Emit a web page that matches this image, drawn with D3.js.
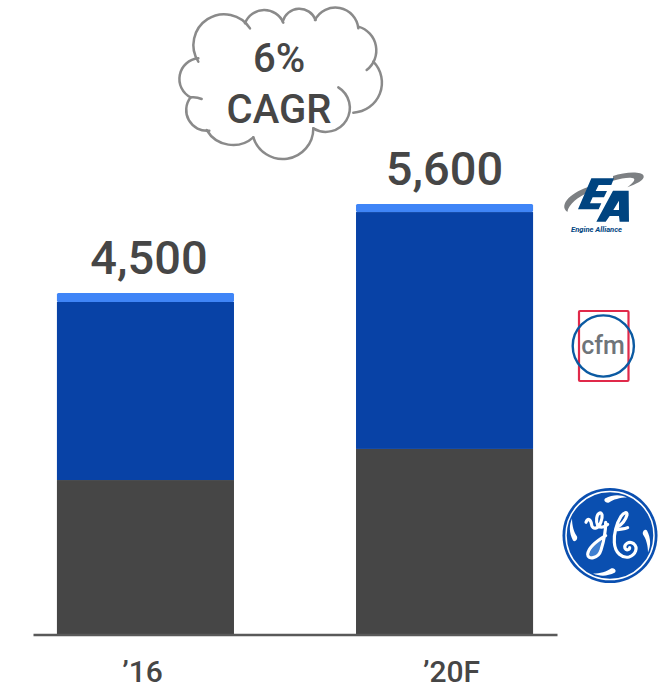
<!DOCTYPE html>
<html>
<head>
<meta charset="utf-8">
<style>
  html, body { margin: 0; padding: 0; background: #fff; }
  svg { display: block; }
  text { font-family: Roboto, sans-serif; }
</style>
<script src="https://d3js.org/d3.v7.min.js"></script>
</head>
<body>
<script>
const categories = ["\u201916", "\u201920F"];
const totalLabels = ["4,500", "5,600"];
const seriesNames = ["GE", "CFM", "Engine Alliance"];
const geValues = [2005, 2410];
const cfmValues = [2320, 3085];
const eaValues = [115, 105];
const cagrLines = ["6%", "CAGR"];

const w = 666, h = 689;
const dark = "#464646", mid = "#0842a6", light = "#3f85f7";

const svg = d3.select("body").append("svg").attr("width", w).attr("height", h);

const x = d3.scaleBand().domain(categories).range([33, 557])
  .paddingInner(0.408).paddingOuter(0.08);
const y = d3.scaleLinear().domain([0, 5600]).range([634, 204]);

const rows = categories.map((c, i) => ({ cat: c, GE: geValues[i], CFM: cfmValues[i], "Engine Alliance": eaValues[i] }));
const stack = d3.stack().keys(seriesNames)(rows);
const colors = d3.scaleOrdinal().domain(seriesNames).range([dark, mid, light]);

svg.selectAll("g.series").data(stack).enter().append("g")
  .attr("class", "series")
  .attr("fill", d => colors(d.key))
  .selectAll("rect").data(d => d).enter().append("rect")
  .attr("x", d => x(d.data.cat))
  .attr("width", x.bandwidth())
  .attr("y", d => y(d[1]))
  .attr("height", d => y(d[0]) - y(d[1]))
  .attr("rx", (d, i, n) => n[i].parentNode.__data__.key === "Engine Alliance" ? 1.5 : 0);

// axis, labels sit a bit off centre in the original
const axis = svg.append("g").attr("transform", "translate(0,634.5)")
  .call(d3.axisBottom(x).tickSize(0).tickPadding(26).tickSizeOuter(0));
axis.select(".domain").attr("stroke", "#595959").attr("stroke-width", 2.6);
axis.selectAll("text")
  .attr("fill", dark).attr("font-size", 30).attr("font-weight", 500)
  .attr("dx", (d, i) => i === 0 ? -3 : 7)
  .style("font-family", "Roboto, sans-serif");

// totals above the bars
svg.selectAll("text.total").data(categories).enter().append("text")
  .attr("class", "total")
  .attr("x", (d, i) => x(d) + x.bandwidth() / 2 + (i === 0 ? 3.5 : 0))
  .attr("y", (d, i) => y(geValues[i] + cfmValues[i] + eaValues[i]) - 19)
  .attr("text-anchor", "middle")
  .attr("fill", dark).attr("font-size", 47).attr("font-weight", 500)
  .text((d, i) => totalLabels[i]);

// cloud, drawn lobe by lobe in zoomed coords
const lobes = [
  [62, 292, 85, 175, 62, 0], [95, 297, 62, 292, 60, 1],
  [85, 185, 240, 85, 92, 0], [225, 70, 340, 68, 62, 0],
  [338, 65, 437, 60, 52, 0], [435, 60, 565, 85, 69, 0],
  [565, 80, 590, 210, 74, 0], [610, 185, 550, 338, 90, 0],
  [505, 262, 430, 385, 72, 0], [430, 385, 250, 412, 92, 0],
  [250, 412, 110, 390, 92, 0], [118, 392, 62, 292, 62, 0]
];
svg.append("g").attr("transform", "translate(170,0) scale(0.3333)")
  .selectAll("path").data(lobes).enter().append("path")
  .attr("d", d => `M${d[0]},${d[1]}A${d[4]},${d[4]} 0 0 ${d[5] ? 0 : 1} ${d[2]},${d[3]}`)
  .attr("fill", "none").attr("stroke", "#8a8a8a").attr("stroke-width", 7.5).attr("stroke-linecap", "round");

svg.selectAll("text.cagr").data(cagrLines).enter().append("text")
  .attr("class", "cagr")
  .attr("x", 279).attr("y", (d, i) => 72 + i * 51)
  .attr("text-anchor", "middle")
  .attr("fill", dark).attr("font-size", 40).attr("font-weight", 500)
  .text(d => d);

// Engine Alliance logo
const ea = svg.append("g").attr("transform", "translate(558,170) scale(0.3333)");
ea.append("path").attr("fill", "#7d8083")
  .attr("d", "M28,126C0,105 40,64 102,48L95,66C60,80 32,102 28,126Z");
ea.append("path").attr("fill", "#7d8083")
  .attr("d", "M165,18C200,6 252,3 257,18C260,30 235,42 208,52C228,36 236,26 222,24C208,22 190,26 165,32Z");
ea.append("path").attr("fill", "#004480")
  .attr("d", "M100,25L168,25L160,45L122,45L113,63L147,63L138,82L104,82L96,100L130,100L122,118L60,118Z");
ea.append("path").attr("fill", "#004480").attr("fill-rule", "evenodd")
  .attr("d", "M165,62L212,62L213,155L185,155L183,138L155,138L143,155L115,155ZM183,92L166,120L183,120Z");
svg.append("text").attr("x", 571).attr("y", 232).attr("font-size", 7.5).attr("font-weight", 700)
  .attr("font-style", "italic").attr("fill", "#004480").attr("textLength", 51).attr("lengthAdjust", "spacingAndGlyphs")
  .text("Engine Alliance");

// CFM logo
const cfm = svg.append("g");
cfm.append("rect").attr("x", 579).attr("y", 311).attr("width", 49.5).attr("height", 70).attr("rx", 1)
  .attr("fill", "none").attr("stroke", "#e0294a").attr("stroke-width", 2.2);
cfm.append("circle").attr("cx", 603.3).attr("cy", 346).attr("r", 30.6)
  .attr("fill", "none").attr("stroke", "#0b5aa2").attr("stroke-width", 2.4);
cfm.append("text").attr("x", 603).attr("y", 354).attr("text-anchor", "middle")
  .attr("font-size", 25).attr("font-weight", 500).attr("fill", "#6f7479").text("cfm");

// GE logo
const ge = svg.append("g").attr("transform", "translate(610,535.5)");
ge.append("circle").attr("r", 47.5).attr("fill", "#0a4fb0");
ge.append("circle").attr("r", 44).attr("fill", "none").attr("stroke", "#fff").attr("stroke-width", 1.5);
ge.selectAll("path.swash").data([0, 90, 180, 270]).enter().append("path").attr("class", "swash")
  .attr("d", "M-5,-37C3,-41 10,-41 17,-38C10,-38 3,-36 -1,-33C-4,-32 -7,-35 -5,-37Z")
  .attr("transform", d => `rotate(${d})`)
  .attr("fill", "#fff");
const mono = svg.append("g").attr("transform", "translate(575,505) scale(0.3333)");
mono.append("path").attr("fill", "#3f7fd0")
  .attr("d", "M74,108C58,120 44,136 44,150C46,158 66,156 72,138C76,128 78,116 78,108Z");
const strokes = [
  "M33,52C38,36 48,44 50,60C52,74 70,74 78,50C84,34 82,22 74,24C64,28 62,50 68,62C76,70 90,66 98,58",
  "M92,52C92,80 86,110 78,135C70,162 38,165 38,148C40,128 70,105 92,92",
  "M128,74C138,72 150,72 158,68",
  "M128,66C140,58 152,44 156,30C158,18 146,22 138,34C124,56 116,88 118,112C120,145 142,160 162,156C182,150 190,128 176,116C162,106 146,118 150,130C154,138 164,134 164,128"
];
mono.selectAll("path.mono").data(strokes).enter().append("path").attr("class", "mono").attr("d", d => d)
  .attr("fill", "none").attr("stroke", "#fff").attr("stroke-width", 9.5).attr("stroke-linecap", "round");
</script>
</body>
</html>
